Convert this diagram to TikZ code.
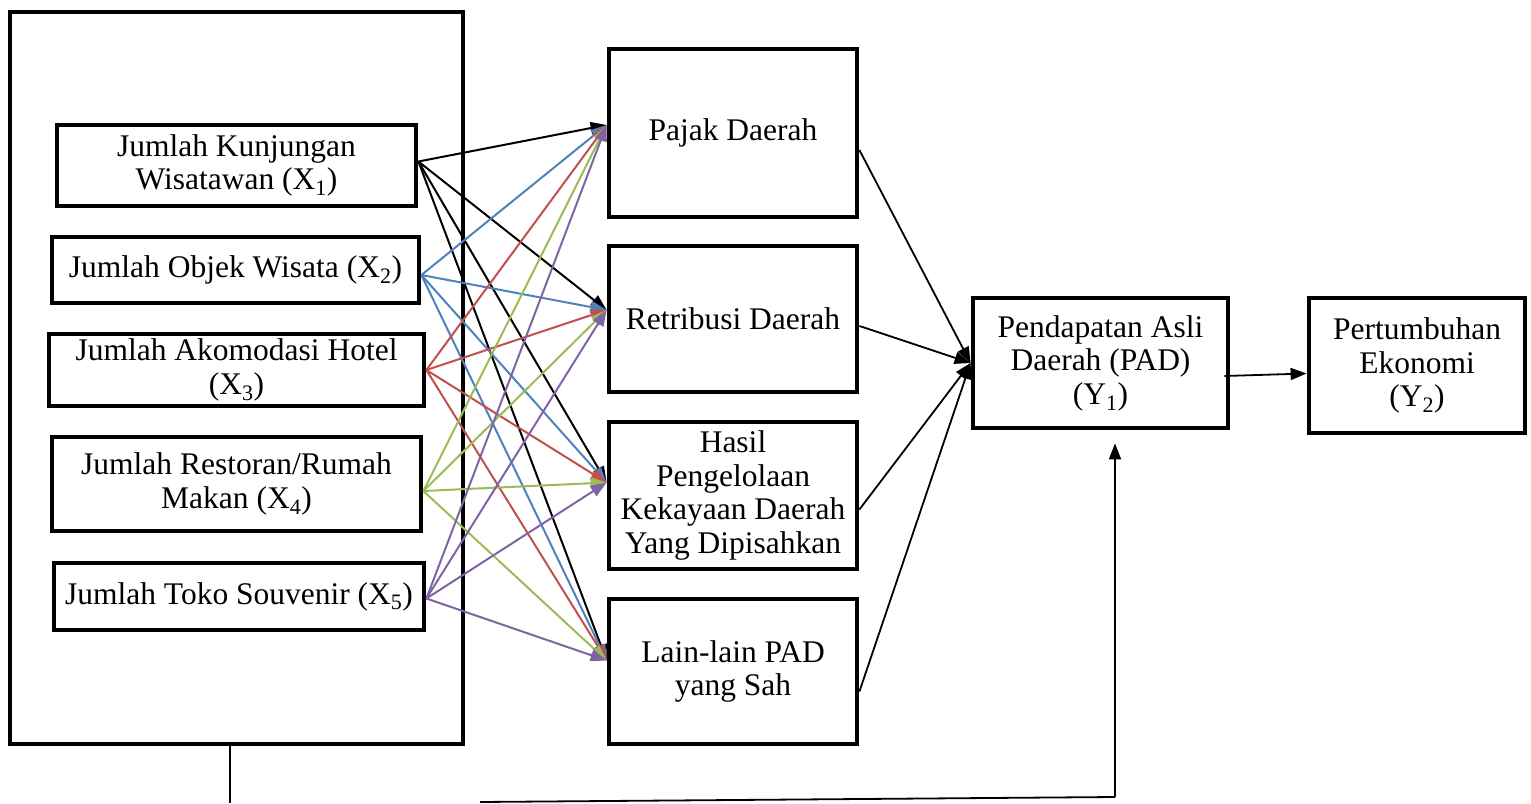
\documentclass[tikz,border=0pt]{standalone}
\usepackage{fontspec}
\setmainfont{Liberation Serif}
\usetikzlibrary{arrows.meta,calc}
\definecolor{cblue}{HTML}{4F81BD}
\definecolor{cred}{HTML}{C0504D}
\definecolor{cgreen}{HTML}{9BBB59}
\definecolor{cpurple}{HTML}{8064A2}
\begin{document}
\begin{tikzpicture}[x=1pt,y=-1pt,
  box/.style={draw,line width=4.8pt,inner sep=0pt,align=center,font=\fontsize{31.5}{33.5}\selectfont},
  arr/.style={line width=2pt,-{Triangle[length=16pt,width=12pt]}},
  link/.style={line width=1.8pt,-{Triangle[length=16pt,width=12pt]}}]
\useasboundingbox (0,0) rectangle (1531,803);
\node[box,minimum width=453pt,minimum height=732pt] (big) at (236.5,378) {};
\node[box,minimum width=359pt,minimum height=81pt] (x1) at (236.5,165.5) {Jumlah Kunjungan\\Wisatawan (X\textsubscript{1})};
\node[box,minimum width=367pt,minimum height=66pt] (x2) at (235.5,270) {Jumlah Objek Wisata (X\textsubscript{2})};
\node[box,minimum width=375pt,minimum height=72pt] (x3) at (236.5,370) {Jumlah Akomodasi Hotel\\(X\textsubscript{3})};
\node[box,minimum width=369pt,minimum height=94pt] (x4) at (236.5,484) {Jumlah Restoran/Rumah\\Makan (X\textsubscript{4})};
\node[box,minimum width=370pt,minimum height=67pt] (x5) at (239,596.5) {Jumlah Toko Souvenir (X\textsubscript{5})};
\node[box,minimum width=248pt,minimum height=168pt] (pajak) at (733,133) {Pajak Daerah};
\node[box,minimum width=248pt,minimum height=146pt] (retri) at (733,319) {Retribusi Daerah};
\node[box,minimum width=248pt,minimum height=147pt] (hasil) at (733,495.5) {Hasil\\Pengelolaan\\Kekayaan Daerah\\Yang Dipisahkan};
\node[box,minimum width=248pt,minimum height=145pt] (lain) at (733,671.5) {Lain-lain PAD\\yang Sah};
\node[box,minimum width=255pt,minimum height=130pt] (pad) at (1100.5,363) {Pendapatan Asli\\Daerah (PAD)\\(Y\textsubscript{1})};
\node[box,minimum width=216pt,minimum height=135pt] (pert) at (1417,365.5) {Pertumbuhan\\Ekonomi\\(Y\textsubscript{2})};
\foreach \s/\c/\d in {x1/black/4,x2/cblue/-5,x3/cred/0,x4/cgreen/-7,x5/cpurple/-2}{
  \draw[arr,draw=\c,fill=\c] ([yshift=\d pt]\s.east) -- ([yshift=8pt]pajak.west);
  \draw[arr,draw=\c,fill=\c] ([yshift=\d pt]\s.east) -- ([yshift=9pt]retri.west);
  \draw[arr,draw=\c,fill=\c] ([yshift=\d pt]\s.east) -- ([yshift=13pt]hasil.west);
  \draw[arr,draw=\c,fill=\c] ([yshift=\d pt]\s.east) -- ([yshift=11pt]lain.west);
}
\draw[link] ([yshift=-17pt]pajak.east) -- (pad.west);
\draw[link] ([yshift=-7pt]retri.east) -- (pad.west);
\draw[link] ([yshift=-14pt]hasil.east) -- (pad.west);
\draw[link] ([yshift=-20pt]lain.east) -- (pad.west);
\draw[link] ([xshift=-6pt,yshift=-13pt]pad.east) -- ([yshift=-8pt]pert.west);
% bottom feedback line
\coordinate (b0) at (230,803);
\coordinate (b1) at (480,802);
\coordinate (b2) at (1115,797);
\draw[line width=1.8pt] (big.south -| b0) -- (b0);
\draw[line width=1.8pt] (b1) -- (b2);
\draw[link] (b2) -- ([yshift=-13pt]pad.south -| b2);
\end{tikzpicture}
\end{document}
